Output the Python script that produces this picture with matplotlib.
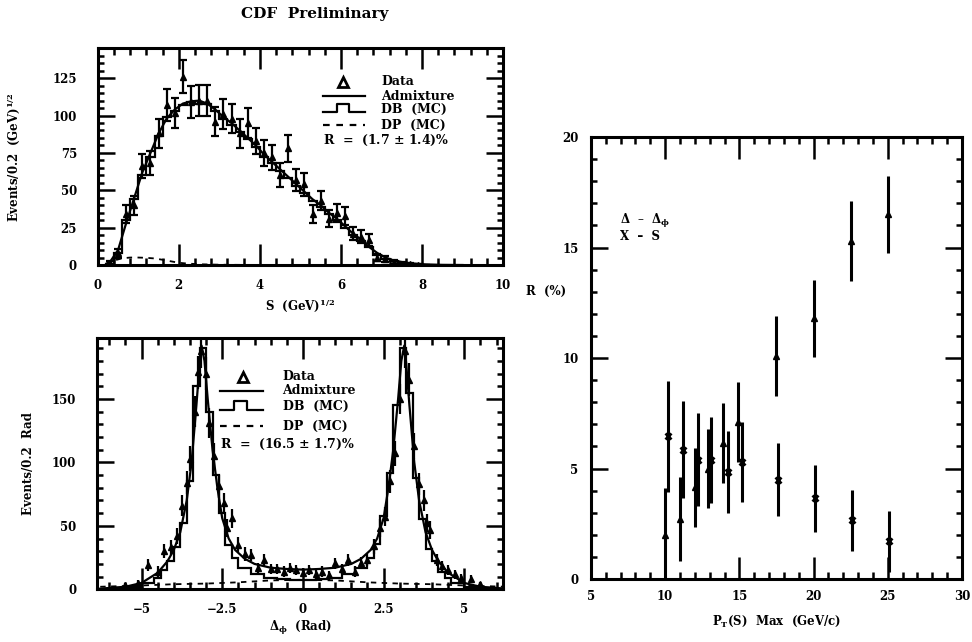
import matplotlib
matplotlib.use("Agg")
import matplotlib.pyplot as plt
from matplotlib.ticker import MultipleLocator

plt.rcParams["font.family"] = ["DejaVu Serif"]
plt.rcParams["font.weight"] = "bold"
plt.rcParams["axes.labelweight"] = "bold"
plt.rcParams["mathtext.fontset"] = "dejavuserif"
plt.rcParams["mathtext.default"] = "bf"

# ---- S distribution (top left) ----
s_x = [0.3, 0.5, 0.7, 0.9, 1.1, 1.3, 1.5, 1.7, 1.9, 2.1, 2.3, 2.5, 2.7, 2.9, 3.1, 3.3, 3.5,
       3.7, 3.9, 4.1, 4.3, 4.5, 4.7, 4.9, 5.1, 5.3, 5.5, 5.7, 5.9, 6.1, 6.3, 6.5, 6.7, 6.9,
       7.1, 7.3, 7.5, 7.7, 7.9]
s_y = [1.5, 8, 34, 40, 66, 68, 88, 107, 102, 126, 109, 110, 110, 96, 101, 98, 88,
       95, 83, 75, 72, 60, 78, 57, 54, 34, 43, 31, 35, 33, 21, 19, 17, 5,
       4, 2, 1, 0.6, 0.3]
s_err = [1.2, 3, 6, 6.5, 8, 8, 9.5, 10.5, 10, 11, 10.5, 10.5, 10.5, 10, 10, 10, 9.5,
         10, 9, 8.5, 8.5, 8, 9, 7.5, 7.5, 6, 6.5, 5.5, 6, 6, 4.5, 4.5, 4, 2.2,
         2, 1.4, 1, 0.8, 0.5]

s_fit_x = [0.2, 0.3, 0.5, 0.7, 0.9, 1.1, 1.3, 1.5, 1.7, 1.9, 2.1, 2.3, 2.5, 2.7, 2.9, 3.1,
           3.3, 3.5, 3.7, 3.9, 4.1, 4.3, 4.5, 4.7, 4.9, 5.1, 5.3, 5.5, 5.7, 5.9, 6.1, 6.3,
           6.5, 6.7, 6.9, 7.1, 7.3, 7.5, 7.7, 7.9, 8.1, 8.5, 9.0]
s_fit_y = [0, 2, 10, 28, 45, 62, 75, 88, 98, 104, 108, 109.5, 110, 108, 104, 99,
           95, 90, 85, 80, 74, 69, 64, 59, 54, 49, 44, 40, 35, 31, 26, 21,
           17, 12, 8, 5, 3, 2, 1.2, 0.7, 0.4, 0.1, 0]

s_db_edges = [0.2, 0.4, 0.6, 0.8, 1.0, 1.2, 1.4, 1.6, 1.8, 2.0, 2.2, 2.4, 2.6, 2.8, 3.0,
              3.2, 3.4, 3.6, 3.8, 4.0, 4.2, 4.4, 4.6, 4.8, 5.0, 5.2, 5.4, 5.6, 5.8, 6.0,
              6.2, 6.4, 6.6, 6.8, 7.0, 7.2, 7.4, 7.6, 7.8, 8.0, 8.2]
s_db = [1, 8, 30, 44, 60, 72, 86, 99, 103, 107, 109, 108, 108, 103, 98,
        94, 89, 84, 79, 72, 68, 63, 58, 53, 48, 43, 39, 34, 30, 25,
        20, 16, 12, 7, 4, 2.5, 1.5, 1, 0.5, 0.3]

s_dp_x = [0.2, 0.4, 0.6, 0.8, 1.0, 1.2, 1.4, 1.6, 1.8, 2.0, 2.2, 2.5, 3.0, 4.0]
s_dp_y = [1, 3, 4.5, 5, 5, 4.8, 4.4, 3.5, 2.5, 1.5, 1, 0.5, 0.2, 0]

# ---- delta-phi distribution (bottom left) ----
dphi_x = [-5.5, -5.1, -4.8, -4.5, -4.3, -4.1, -3.9, -3.75, -3.6, -3.5, -3.35, -3.25, -3.15,
          -3.0, -2.9, -2.75, -2.6, -2.45, -2.35, -2.2, -2.0, -1.8, -1.6, -1.4, -1.2, -1.0,
          -0.8, -0.6, -0.4, -0.2, 0.0, 0.2, 0.4, 0.6, 0.8, 1.0, 1.2, 1.4, 1.6, 1.8, 2.0,
          2.2, 2.4, 2.55, 2.7, 2.85, 3.0, 3.15, 3.3, 3.45, 3.6, 3.75, 3.85, 3.95, 4.15,
          4.3, 4.5, 4.7, 4.9, 5.2, 5.5]
dphi_y = [3, 5, 19, 14, 30, 33, 42, 66, 84, 103, 140, 171, 188,
          170, 131, 105, 81, 68, 48, 56, 35, 28, 27, 17, 23, 16,
          16, 14, 17, 15, 13, 15, 12, 14, 11, 20.5, 16, 23, 14, 21, 23,
          34, 48, 57, 85, 107, 150, 188, 165, 113, 83, 70, 52, 47, 23,
          18, 15, 12, 9, 8, 4]
dphi_err = [2, 2.5, 4.5, 4, 5.5, 6, 6.5, 8, 9, 10, 12, 13, 14,
            13, 11.5, 10, 9, 8, 7, 7.5, 6, 5.5, 5, 4, 5, 4,
            4, 4, 4, 4, 3.5, 4, 3.5, 4, 3.5, 4.5, 4, 5, 4, 4.5, 5,
            6, 7, 7.5, 9, 10, 12, 14, 13, 10.5, 9, 8.5, 7, 7, 5,
            4, 4, 3.5, 3, 3, 2]

dphi_fit_x = [-6.28, -5.5, -5.0, -4.5, -4.2, -4.0, -3.8, -3.6, -3.45, -3.3, -3.2, -3.14,
              -3.05, -2.95, -2.8, -2.65, -2.5, -2.3, -2.1, -1.8, -1.5, -1.0, -0.5, 0.0,
              0.5, 1.0, 1.5, 1.8, 2.1, 2.3, 2.5, 2.65, 2.8, 2.95, 3.05, 3.14, 3.2, 3.3,
              3.45, 3.6, 3.8, 4.0, 4.2, 4.5, 5.0, 5.5, 6.28]
dphi_fit_y = [0.5, 2, 5, 13, 22, 31, 45, 70, 100, 145, 178, 192,
              180, 150, 110, 80, 56, 40, 31, 24, 20, 17, 16, 15.5,
              16, 17, 20, 24, 31, 40, 56, 80, 110, 150, 180, 192, 178, 145,
              100, 70, 45, 31, 22, 13, 5, 2, 0.5]

dphi_db_edges = [-6.2, -5.8, -5.4, -5.0, -4.6, -4.4, -4.2, -4.0, -3.8, -3.6, -3.4, -3.2,
                 -3.0, -2.8, -2.6, -2.4, -2.2, -2.0, -1.6, -1.2, -0.8, -0.4, 0.0, 0.4,
                 0.8, 1.2, 1.6, 2.0, 2.2, 2.4, 2.6, 2.8, 3.0, 3.2, 3.4, 3.6, 3.8, 4.0,
                 4.2, 4.4, 4.6, 5.0, 5.4, 5.8, 6.2]
dphi_db = [0.5, 1, 2, 5, 9, 15, 22, 33, 52, 85, 160, 190,
           140, 90, 60, 35, 25, 17, 12, 9, 8, 7, 7, 8,
           9, 12, 17, 25, 36, 58, 92, 145, 190, 155, 88, 55, 32,
           22, 14, 9, 5, 2, 1, 0.5]

dphi_dp_x = [-6.28, -5.0, -4.0, -3.0, -2.0, -1.0, 0.0, 1.0, 2.0, 3.0, 4.0, 5.0, 6.28]
dphi_dp_y = [2, 3, 4, 4.5, 5.5, 7, 7.5, 7, 5.5, 4.5, 4, 3, 2]

# ---- admixture fraction R vs P_T max (right) ----
tri_x = [10.0, 11.0, 12.0, 12.9, 13.9, 14.9, 17.5, 20.0, 22.5, 25.0]
tri_r = [2.0, 2.7, 4.15, 5.0, 6.15, 7.1, 10.1, 11.8, 15.3, 16.5]
tri_err = [2.1, 1.9, 1.8, 1.8, 1.8, 1.8, 1.8, 1.75, 1.8, 1.75]
crs_x = [10.2, 11.2, 12.2, 13.1, 14.2, 15.2, 17.6, 20.1, 22.6, 25.1]
crs_r = [6.45, 5.85, 5.4, 5.4, 4.85, 5.3, 4.5, 3.65, 2.65, 1.7]
crs_err = [2.5, 2.2, 2.1, 1.95, 1.85, 1.8, 1.65, 1.5, 1.4, 1.4]

FS = 8.5
LW = 1.6
DASH = "\u2013"


def frame(ax, xmaj, xmin, ymaj, ymin, xlen=15, ylen=12, xpad=9, ypad=14):
    for sp in ax.spines.values():
        sp.set_linewidth(2.2)
    ax.xaxis.set_major_locator(MultipleLocator(xmaj))
    ax.xaxis.set_minor_locator(MultipleLocator(xmin))
    ax.yaxis.set_major_locator(MultipleLocator(ymaj))
    ax.yaxis.set_minor_locator(MultipleLocator(ymin))
    ax.tick_params(which="both", direction="in", top=True, right=True, width=1.8,
                   labelsize=FS)
    ax.tick_params(axis="x", which="major", length=xlen, pad=xpad)
    ax.tick_params(axis="y", which="major", length=ylen, pad=ypad)
    ax.tick_params(axis="x", which="minor", length=5)
    ax.tick_params(axis="y", which="minor", length=4)


def legend_block(ax, xs, xe, xt, xtri, ys, r_text):
    tr = ax.transAxes
    ax.plot([xtri], [ys[0]], marker="^", ms=7, mfc="white", mec="black", mew=2,
            transform=tr, clip_on=False)
    ax.plot([xs, xe], [ys[1], ys[1]], color="black", lw=LW, transform=tr)
    w = xe - xs
    ax.plot([xs, xs + 0.32 * w, xs + 0.32 * w, xs + 0.62 * w, xs + 0.62 * w, xe],
            [ys[2] - 0.012, ys[2] - 0.012, ys[2] + 0.025, ys[2] + 0.025,
             ys[2] - 0.012, ys[2] - 0.012], color="black", lw=LW, transform=tr)
    ax.plot([xs, xe], [ys[3], ys[3]], color="black", lw=LW, ls=(0, (3, 3)), transform=tr)
    for yy, label in zip(ys[:4], ["Data", "Admixture", "DB  (MC)", "DP  (MC)"]):
        ax.text(xt, yy, label, transform=tr, fontsize=9, va="center", ha="left")
    ax.text(xs, ys[4], r_text, transform=tr, fontsize=9, va="center", ha="left")


fig = plt.figure(figsize=(9.72, 6.42), dpi=100)

# top left
ax1 = fig.add_axes([0.1006, 0.5872, 0.4169, 0.3376])
ax1.stairs(s_db, s_db_edges, color="black", lw=LW)
ax1.plot(s_fit_x, s_fit_y, color="black", lw=LW)
ax1.plot(s_dp_x, s_dp_y, color="black", lw=1.3, ls=(0, (3, 3)))
ax1.errorbar(s_x, s_y, yerr=s_err, fmt="^", ms=4, color="black", ecolor="black",
             elinewidth=1.6, capsize=3, capthick=1.6)
ax1.set_xlim(0, 10)
ax1.set_ylim(0, 145)
frame(ax1, 2, 0.4, 25, 5, xpad=10, ypad=15)
ax1.set_xlabel(r"S  (GeV)$^{1/2}$", fontsize=FS, labelpad=4)
ax1.set_ylabel(r"Events/0.2  (GeV)$^{1/2}$", fontsize=FS, labelpad=22)
legend_block(ax1, 0.557, 0.66, 0.70, 0.605, [0.846, 0.778, 0.718, 0.646, 0.577],
             r"R  =  (1.7 $\pm$ 1.4)%")

# bottom left
ax2 = fig.add_axes([0.0998, 0.0821, 0.4177, 0.3914])
ax2.stairs(dphi_db, dphi_db_edges, color="black", lw=LW)
ax2.plot(dphi_fit_x, dphi_fit_y, color="black", lw=LW)
ax2.plot(dphi_dp_x, dphi_dp_y, color="black", lw=1.3, ls=(0, (3, 3)))
ax2.errorbar(dphi_x, dphi_y, yerr=dphi_err, fmt="^", ms=4, color="black",
             ecolor="black", elinewidth=1.6, capsize=0)
ax2.set_xlim(-6.38, 6.2)
ax2.set_ylim(0, 198)
frame(ax2, 2.5, 0.5, 50, 10, xpad=10, ypad=15)
ax2.set_xticks([-5, -2.5, 0, 2.5, 5], ["\u22125", "\u22122.5", "0", "2.5", "5"])
ax2.set_ylabel("Events/0.2  Rad", fontsize=FS, labelpad=12)
fig.text(0.309, 0.022, r"$\Delta_\phi$  (Rad)", fontsize=FS, ha="center", va="center")
legend_block(ax2, 0.303, 0.41, 0.457, 0.359, [0.846, 0.79, 0.726, 0.649, 0.577],
             r"R  =  (16.5 $\pm$ 1.7)%")

# right
ax3 = fig.add_axes([0.608, 0.0981, 0.3817, 0.6885])
ax3.errorbar(tri_x, tri_r, yerr=tri_err, fmt="^", ms=4.5, color="black",
             ecolor="black", elinewidth=2.2, capsize=0)
ax3.errorbar(crs_x, crs_r, yerr=crs_err, fmt="x", ms=5, mew=2, color="black",
             ecolor="black", elinewidth=2.2, capsize=0)
ax3.set_xlim(5, 30)
ax3.set_ylim(0, 20)
frame(ax3, 5, 1, 5, 1, xlen=16, ylen=12, xpad=8, ypad=9)
ax3.set_xlabel(r"P$_T$(S)  Max  (GeV/c)", fontsize=FS, labelpad=8)
ax3.text(-0.175, 0.65, "R  (%)", transform=ax3.transAxes, fontsize=FS,
         ha="left", va="center")
ax3.text(0.078, 0.81, r"$\Delta$  " + DASH + r"  $\Delta_\phi$",
         transform=ax3.transAxes, fontsize=FS, ha="left", va="center")
ax3.text(0.078, 0.775, "X  " + DASH + "  S", transform=ax3.transAxes, fontsize=FS,
         ha="left", va="center")

fig.text(0.324, 0.978, "CDF  Preliminary", fontsize=11, ha="center", va="center")

fig.savefig("out.png", dpi=100)
